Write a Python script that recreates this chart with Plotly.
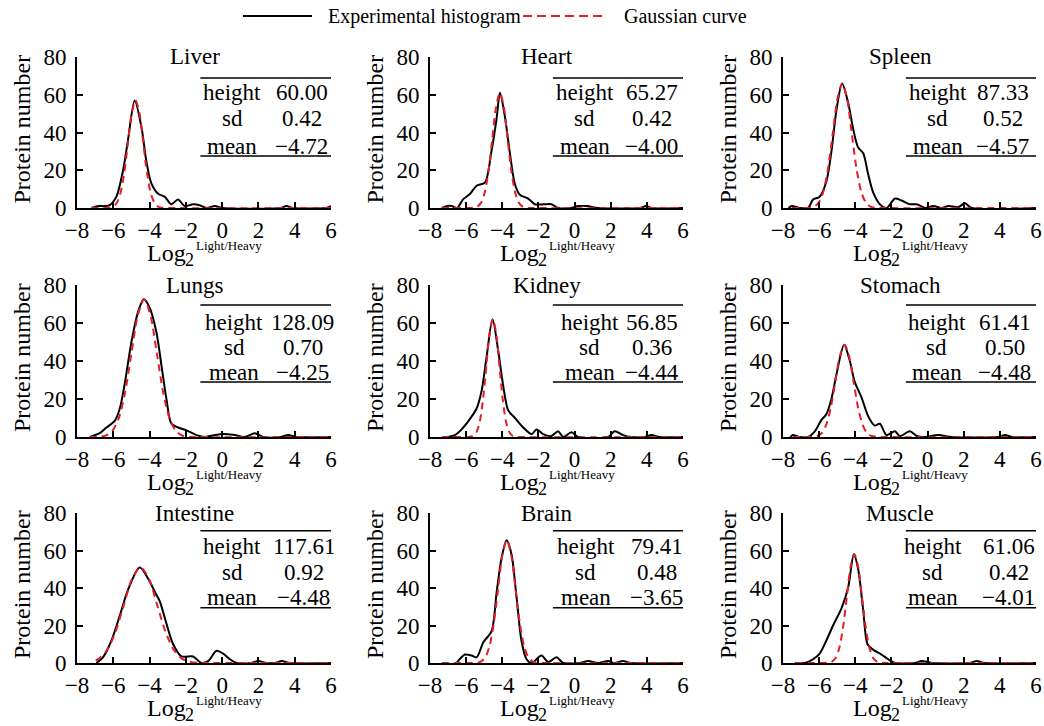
import plotly.graph_objects as go

W, H = 1044, 726
FONT = "Liberation Serif, Times New Roman, serif"
RED = "rgb(228,30,38)"

# ---------------- data ----------------
tissues = ["Liver", "Heart", "Spleen", "Lungs", "Kidney", "Stomach", "Intestine", "Brain", "Muscle"]
heights = [60.00, 65.27, 87.33, 128.09, 56.85, 61.41, 117.61, 79.41, 61.06]
sds = [0.42, 0.42, 0.52, 0.70, 0.36, 0.50, 0.92, 0.48, 0.42]
means = [-4.72, -4.00, -4.57, -4.25, -4.44, -4.48, -4.48, -3.65, -4.01]

x_ticks = [-8, -6, -4, -2, 0, 2, 4, 6]
y_ticks = [0, 20, 40, 60, 80]

# Experimental histogram (black)
liver_exp_x = [-7.2, -6.8, -6.5, -6.2, -5.83, -5.46, -5.19, -4.82, -4.45, -4.18, -3.9, -3.53, -3.17, -2.8, -2.43, -2.06, -1.6, -1.24, -0.87, -0.4, 0.05, 3.2, 3.55, 3.9, 5.7, 6.0]
liver_exp_y = [0, 1, 1, 1.5, 6, 20, 36, 57, 43, 25, 13, 7.5, 6, 2, 4.5, 1, 2, 1.5, 0, 1, 0, 0, 1, 0, 0, 1]
heart_exp_x = [-7.35, -7.1, -6.8, -6.5, -6.16, -5.79, -5.42, -4.96, -4.6, -4.32, -4.13, -3.86, -3.58, -3.3, -3.03, -2.57, -2.2, -1.7, -1.28, -0.9, -0.2, 0.2, 0.7, 1.3, 3.6, 3.97, 4.25, 6.0]
heart_exp_y = [0, 1, 1, 0, 4.7, 7.4, 11.8, 13.5, 30, 47, 61, 48.7, 29, 12.6, 7, 5, 2, 2, 2, 0, 0, 1, 1, 0, 0, 1, 0, 0]
spleen_exp_x = [-7.7, -7.5, -7.1, -6.61, -6.34, -5.97, -5.6, -5.32, -5.04, -4.73, -4.4, -4.12, -3.84, -3.56, -3.29, -3.0, -2.64, -2.27, -1.8, -1.44, -0.98, -0.6, -0.14, 0.32, 0.78, 1.15, 1.7, 2.07, 2.44, 6.0]
spleen_exp_y = [0, 1, 0, 0, 4.5, 6, 14, 30, 52, 66, 56, 42, 32, 29, 18, 8, 2, 0, 5, 4, 2, 2, 0, 1, 0, 1, 0.5, 2.5, 0, 0]
lungs_exp_x = [-7.3, -6.75, -6.38, -5.92, -5.64, -5.37, -5.0, -4.63, -4.32, -3.99, -3.62, -3.35, -3.07, -2.8, -2.43, -1.97, -1.41, -0.95, -0.13, 0.6, 1.25, 1.8, 2.27, 3.2, 3.65, 4.1, 6.0]
lungs_exp_y = [0, 2, 5, 8.5, 15, 28, 50, 66, 72.5, 68, 55, 38, 20, 7, 5, 3.5, 1, 0, 1.5, 1.2, 0, 2, 0, 0, 1, 0, 0]
kidney_exp_x = [-7.0, -6.62, -6.25, -5.79, -5.42, -5.15, -4.87, -4.54, -4.22, -3.95, -3.67, -3.3, -2.84, -2.38, -2.1, -1.74, -1.28, -0.91, -0.63, -0.17, 0.2, 1.85, 2.22, 2.68, 3.14, 3.9, 4.25, 4.7, 6.0]
kidney_exp_y = [0, 1, 4, 9.5, 15, 24, 42, 62, 45, 27, 14, 10, 5, 1.5, 4, 1.5, 0.5, 3, 0, 2.5, 0, 0, 3, 1, 0, 0, 1, 0, 0]
stomach_exp_x = [-7.6, -7.45, -7.1, -6.61, -6.24, -5.87, -5.6, -5.32, -5.04, -4.62, -4.3, -4.03, -3.66, -3.29, -2.92, -2.64, -2.27, -1.81, -1.53, -0.98, -0.6, -0.14, 0.6, 1.33, 3.9, 4.29, 4.7, 6.0]
stomach_exp_y = [0, 1, 0, 0, 3, 9, 12, 20, 33, 48.5, 40, 29, 21, 11, 6, 7, 1, 3, 0.5, 3, 0.5, 0, 1, 0, 0, 1, 0, 0]
intestine_exp_x = [-6.93, -6.57, -6.1, -5.65, -5.19, -4.55, -4.08, -3.71, -3.44, -3.07, -2.7, -2.24, -1.6, -1.14, -0.77, -0.31, 0.06, 0.43, 0.8, 1.6, 1.99, 2.45, 2.9, 3.28, 3.74, 6.0]
intestine_exp_y = [0, 3, 12, 25, 39, 51, 45, 38, 33, 21, 10, 3.5, 3.5, 0, 1, 6.5, 5, 2, 0, 0, 1, 0, 0, 1, 0, 0]
brain_exp_x = [-6.53, -6.07, -5.7, -5.42, -5.05, -4.59, -4.32, -4.04, -3.76, -3.49, -3.21, -2.94, -2.66, -2.38, -1.83, -1.46, -1.0, -0.63, 0.3, 0.75, 1.3, 1.85, 2.22, 2.68, 3.14, 6.0]
brain_exp_y = [0, 4.5, 4, 3, 11, 17, 37, 56, 65.5, 58, 35, 12, 2, 0, 4, 0.5, 3, 0, 0, 1, 0, 1, 0, 1, 0, 0]
muscle_exp_x = [-7.35, -6.8, -6.34, -5.97, -5.6, -5.23, -4.77, -4.4, -4.08, -3.84, -3.56, -3.32, -3.0, -2.55, -2.18, -1.81, -0.7, -0.33, 0.04, 0.32, 2.3, 2.72, 3.18, 6.0]
muscle_exp_y = [0, 0, 2, 5, 12, 20, 29, 40, 58, 50, 28, 10, 7, 4.5, 2, 0, 0, 1, 0.5, 0, 0, 1, 0, 0]

# Gaussian curve (red dashed)
liver_gau_x = [-7.2, -6.45, -6.24, -6.03, -5.82, -5.61, -5.40, -5.19, -4.98, -4.77, -4.56, -4.35, -4.14, -3.93, -3.72, -3.51, -3.30, -3.05, 6.0]
liver_gau_y = [0, 0, 0.13, 0.63, 2.5, 7.7, 18.5, 34.6, 50.3, 57, 50.3, 34.6, 18.5, 7.7, 2.5, 0.63, 0.13, 0, 0]
heart_gau_x = [-7.35, -5.85, -5.60, -5.39, -5.18, -4.97, -4.76, -4.55, -4.34, -4.13, -3.92, -3.71, -3.50, -3.29, -3.08, -2.87, -2.66, -2.4, 6.0]
heart_gau_y = [0, 0, 0.13, 0.68, 2.7, 8.3, 19.8, 37, 53.8, 61, 53.8, 37, 19.8, 8.3, 2.7, 0.68, 0.13, 0, 0]
spleen_gau_x = [-7.5, -6.8, -6.54, -6.28, -6.02, -5.76, -5.50, -5.24, -4.98, -4.72, -4.46, -4.20, -3.94, -3.68, -3.42, -3.16, -2.90, -2.6, 6.0]
spleen_gau_y = [0, 0, 0.15, 0.73, 2.9, 8.9, 21.4, 40, 58.2, 66, 58.2, 40, 21.4, 8.9, 2.9, 0.73, 0.15, 0, 0]
lungs_gau_x = [-7.3, -7.1, -6.75, -6.40, -6.05, -5.70, -5.35, -5.00, -4.65, -4.30, -3.95, -3.60, -3.25, -2.90, -2.55, -2.20, -1.85, -1.5, 6.0]
lungs_gau_y = [0, 0, 0.16, 0.8, 3.2, 9.8, 23.5, 44, 64, 72.5, 64, 44, 23.5, 9.8, 3.2, 0.8, 0.16, 0, 0]
kidney_gau_x = [-7.35, -6.0, -5.78, -5.60, -5.42, -5.24, -5.06, -4.88, -4.70, -4.52, -4.34, -4.16, -3.98, -3.80, -3.62, -3.44, -3.26, -3.05, 6.0]
kidney_gau_y = [0, 0, 0.14, 0.69, 2.7, 8.4, 20.1, 37.6, 54.7, 62, 54.7, 37.6, 20.1, 8.4, 2.7, 0.69, 0.14, 0, 0]
stomach_gau_x = [-7.45, -6.6, -6.35, -6.10, -5.85, -5.60, -5.35, -5.10, -4.85, -4.60, -4.35, -4.10, -3.85, -3.60, -3.35, -3.10, -2.85, -2.6, 6.0]
stomach_gau_y = [0, 0, 0.11, 0.54, 2.1, 6.6, 15.7, 29.4, 42.8, 48.5, 42.8, 29.4, 15.7, 6.6, 2.1, 0.54, 0.11, 0, 0]
intestine_gau_x = [-6.97, -6.80, -6.34, -5.88, -5.42, -4.96, -4.50, -4.04, -3.58, -3.12, -2.66, -2.20, -1.74, -1.28, -0.9, 6.0]
intestine_gau_y = [1.5, 2.2, 6.9, 16.6, 30.9, 45, 51, 45, 30.9, 16.6, 6.9, 2.2, 0.57, 0.11, 0, 0]
brain_gau_x = [-7.35, -5.7, -5.43, -5.19, -4.95, -4.71, -4.47, -4.23, -3.99, -3.75, -3.51, -3.27, -3.03, -2.79, -2.55, -2.31, -2.07, -1.8, 6.0]
brain_gau_y = [0, 0, 0.14, 0.73, 2.9, 8.9, 21.3, 39.7, 57.8, 65.5, 57.8, 39.7, 21.3, 8.9, 2.9, 0.73, 0.14, 0, 0]
muscle_gau_x = [-7.3, -5.8, -5.52, -5.31, -5.10, -4.89, -4.68, -4.47, -4.26, -4.05, -3.84, -3.63, -3.42, -3.21, -3.00, -2.79, -2.58, -2.3, 6.0]
muscle_gau_y = [0, 0, 0.13, 0.64, 2.5, 7.8, 18.8, 35.2, 51.2, 58, 51.2, 35.2, 18.8, 7.8, 2.5, 0.64, 0.13, 0, 0]

exp_x = [liver_exp_x, heart_exp_x, spleen_exp_x, lungs_exp_x, kidney_exp_x, stomach_exp_x, intestine_exp_x, brain_exp_x, muscle_exp_x]
exp_y = [liver_exp_y, heart_exp_y, spleen_exp_y, lungs_exp_y, kidney_exp_y, stomach_exp_y, intestine_exp_y, brain_exp_y, muscle_exp_y]
gau_x = [liver_gau_x, heart_gau_x, spleen_gau_x, lungs_gau_x, kidney_gau_x, stomach_gau_x, intestine_gau_x, brain_gau_x, muscle_gau_x]
gau_y = [liver_gau_y, heart_gau_y, spleen_gau_y, lungs_gau_y, kidney_gau_y, stomach_gau_y, intestine_gau_y, brain_gau_y, muscle_gau_y]

# ---------------- layout geometry (pixels) ----------------
col_px = [(77, 331), (430, 683), (783, 1036)]
row_px = [(57, 208), (285, 437), (513, 663)]
row_shift = [0, 0, 0]
label_x = [0.56, 0.56, 0.56, 0.67, 0.84, 0.51, 0.56, 0.62, 0.29]
value_x = [4.38, 4.27, 4.15, 4.43, 4.27, 4.27, 4.49, 4.54, 4.49]
row_text_y = [[61.0, 47.2, 32.8], [60.5, 46.9, 33.7], [61.9, 48.5, 34.7]]
row_line_y = [[68.9, 27.5], [69.5, 29.0], [70.6, 29.4]]


def px(xp):
    return xp / W


def py(yp):
    return 1 - yp / H


def fmt(v):
    return f"{v:.2f}".replace("-", "\u2212")


fig = go.Figure()
layout = dict(
    width=W, height=H, autosize=False,
    margin=dict(l=0, r=0, t=0, b=0, pad=0, autoexpand=False),
    paper_bgcolor="white", plot_bgcolor="white", showlegend=False,
    font=dict(family=FONT, color="black", size=23),
)
annotations = []
shapes = []

for i, name in enumerate(tissues):
    r, c = divmod(i, 3)
    suf = "" if i == 0 else str(i + 1)
    xa, ya = "x" + suf, "y" + suf
    x0, x1 = col_px[c]
    yt, yb = row_px[r]

    fig.add_trace(go.Scatter(x=exp_x[i], y=exp_y[i], mode="lines", xaxis=xa, yaxis=ya,
                             name="Experimental histogram",
                             line=dict(color="black", width=2, shape="spline", smoothing=0.8)))
    fig.add_trace(go.Scatter(x=gau_x[i], y=gau_y[i], mode="lines", xaxis=xa, yaxis=ya,
                             name="Gaussian curve",
                             line=dict(color=RED, width=2, dash="7px,5px", shape="spline", smoothing=0.8)))

    common = dict(showgrid=False, zeroline=False, showline=True, linecolor="black", linewidth=2,
                  ticks="inside", ticklen=6, tickwidth=1.5, tickcolor="black", automargin=False,
                  tickfont=dict(family=FONT, size=23, color="black"), fixedrange=True)
    layout["xaxis" + suf] = dict(domain=[px(x0), px(x1)], anchor=ya, range=[-8, 6],
                                 tickvals=x_ticks, ticktext=[fmt(v).replace(".00", "") for v in x_ticks],
                                 ticklabelstandoff=0, **common)
    layout["yaxis" + suf] = dict(domain=[py(yb), py(yt)], anchor=xa, range=[0, 80],
                                 tickvals=y_ticks, ticktext=[str(v) for v in y_ticks],
                                 ticklabelstandoff=4, **common)

    # panel title
    annotations.append(dict(x=-1.5, y=80, xref=xa, yref=ya, text=name, showarrow=False,
                            xanchor="center", yanchor="middle", font=dict(size=23)))
    # parameter table
    labels = ["height", "sd", "mean"]
    values = [fmt(heights[i]), fmt(sds[i]), fmt(means[i])]
    for k in range(3):
        annotations.append(dict(x=label_x[i], y=row_text_y[r][k], xref=xa, yref=ya, text=labels[k],
                                showarrow=False, xanchor="center", yanchor="middle", font=dict(size=23)))
        annotations.append(dict(x=value_x[i], y=row_text_y[r][k], xref=xa, yref=ya, text=values[k],
                                showarrow=False, xanchor="center", yanchor="middle", font=dict(size=23)))
    for ly in row_line_y[r]:
        shapes.append(dict(type="line", xref=xa, yref=ya, x0=-1.2, x1=6, y0=ly, y1=ly,
                           line=dict(color="black", width=1.5)))

    # axis titles: Log, subscript 2, superscript Light/Heavy
    sh = row_shift[r]
    annotations.append(dict(x=px(x0 + 69), y=py(yb + 45 + sh), xref="paper", yref="paper", text="Log",
                            showarrow=False, xanchor="left", yanchor="middle", borderpad=0,
                            font=dict(size=24)))
    annotations.append(dict(x=px(x0 + 107), y=py(yb + 52 + sh), xref="paper", yref="paper", text="2",
                            showarrow=False, xanchor="left", yanchor="middle", borderpad=0,
                            font=dict(size=18)))
    annotations.append(dict(x=px(x0 + 118), y=py(yb + 37 + sh), xref="paper", yref="paper", text="Light/Heavy",
                            showarrow=False, xanchor="left", yanchor="middle", borderpad=0,
                            font=dict(size=13)))
    annotations.append(dict(x=px(x0 - 55), y=py((yt + yb) / 2 - 3), xref="paper", yref="paper",
                            text="Protein number", textangle=-90, showarrow=False,
                            xanchor="center", yanchor="middle", font=dict(size=24)))

# legend (drawn manually)
shapes.append(dict(type="line", xref="paper", yref="paper", x0=px(243), x1=px(312), y0=py(16), y1=py(16),
                   line=dict(color="black", width=2)))
shapes.append(dict(type="line", xref="paper", yref="paper", x0=px(523), x1=px(603), y0=py(16), y1=py(16),
                   line=dict(color=RED, width=2, dash="9px,5px")))
annotations.append(dict(x=px(326), y=py(16), xref="paper", yref="paper", text="Experimental histogram",
                        showarrow=False, xanchor="left", yanchor="middle", font=dict(size=20)))
annotations.append(dict(x=px(622), y=py(16), xref="paper", yref="paper", text="Gaussian curve",
                        showarrow=False, xanchor="left", yanchor="middle", font=dict(size=20)))

layout["annotations"] = annotations
layout["shapes"] = shapes
fig.update_layout(**layout)
fig.write_html("out.html", config={"displayModeBar": False},
               post_script="document.body.style.margin='0px';document.body.style.overflow='hidden';")
